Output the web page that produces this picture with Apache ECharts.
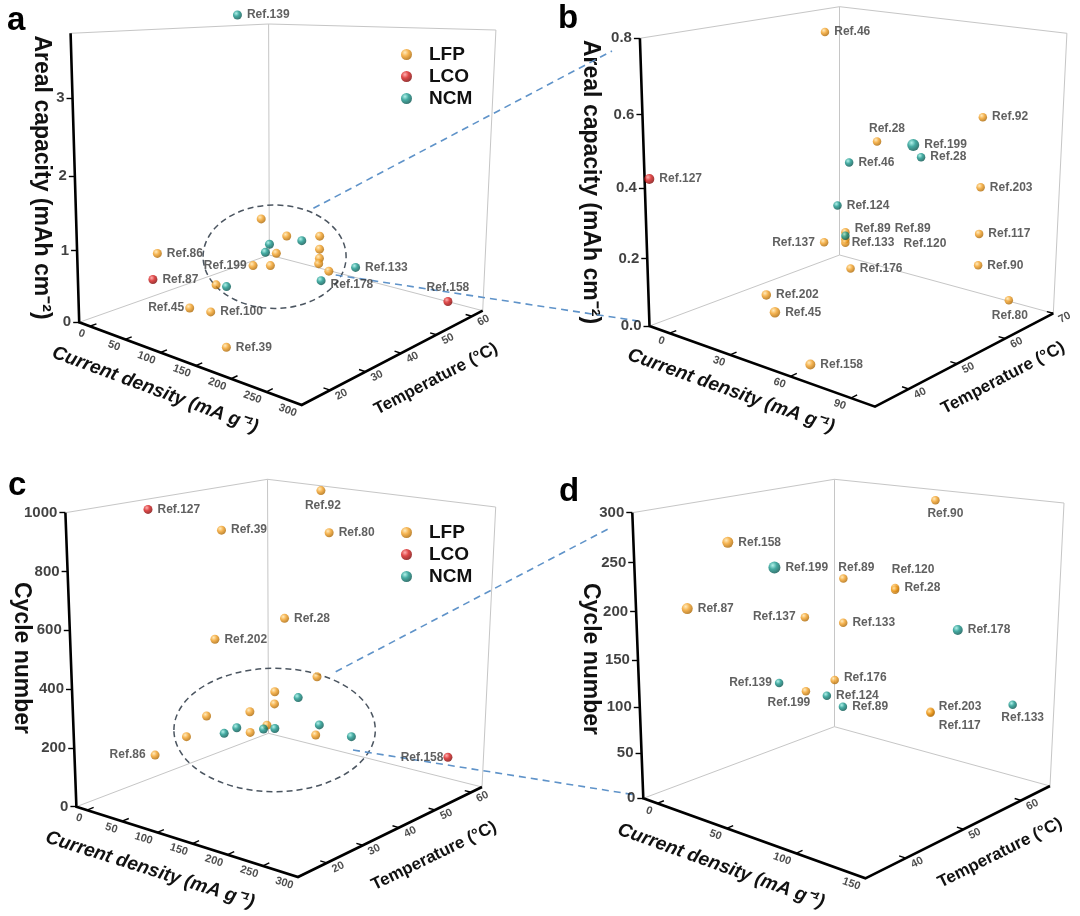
<!DOCTYPE html>
<html><head><meta charset="utf-8">
<script src="https://cdn.jsdelivr.net/npm/echarts@6/dist/echarts.min.js"></script>
<style>html,body{margin:0;padding:0;background:#fff}#c{width:1080px;height:916px}</style>
</head><body><div id="c"></div>
<script>
// ---------------- DATA: [current density (mA/g), temperature (°C), value, reference] ----------------
// Panel a: areal capacity (mAh cm-2)
const aLFP = [
  [29,25,0.89,'Ref.86'],[74,25,0.26,'Ref.45'],[104,25,0.30,'Ref.100'],[178,15,0.26,'Ref.39'],
  [59,35,0.35,''],[59,45,0.44,'Ref.199'],[84,45,0.51,''],[17,55,0.87,''],[39,55,0.37,''],
  [54,55,0.69,''],[75,60,0.64,''],[75,60,0.43,''],[75,60,0.28,''],[74,60,0.19,''],[89,60,0.11,'']
];
const aLCO = [[22,25,0.50,'Ref.87'],[264,60,0.12,'Ref.158']];
const aNCM = [[142,25,4.04,'Ref.139'],[74,35,0.37,''],[29,55,0.49,''],[50,50,0.52,''],[49,60,0.50,''],
  [128,60,0.28,'Ref.133'],[131,50,0.31,'Ref.178']];
// Panel b: areal capacity (zoom)
const bLFP = [
  [22,55,0.79,'Ref.46'],[87,60,0.60,'Ref.92'],[35,60,0.48,'Ref.28'],[87,60,0.41,'Ref.203'],
  [45,50,0.28,'Ref.89'],[45,50,0.26,'Ref.133'],[45,50,0.25,'Ref.120'],[47,45,0.28,'Ref.137'],
  [87,60,0.28,'Ref.117'],[35,55,0.13,'Ref.176'],[87,60,0.19,'Ref.90'],[18,45,0.08,'Ref.202'],
  [35,40,0.09,'Ref.45'],[91,65,0.06,'Ref.80'],[65,35,0.03,'Ref.158']
];
const bLCO = [[0,30,0.45,'Ref.127']];
const bNCM = [[53,60,0.49,'Ref.199'],[57,60,0.46,'Ref.28'],[34,55,0.44,'Ref.46'],[41,50,0.35,'Ref.124'],[45,50,0.27,'Ref.89']];
// Panel c: cycle number
const cLFP = [
  [178,15,1000,'Ref.39'],[75,60,995,'Ref.92'],[87,60,840,'Ref.80'],[25,60,486,'Ref.28'],
  [8,45,460,'Ref.202'],[29,25,146,'Ref.86'],[72,60,288,''],[11,60,195,''],[38,55,190,''],
  [57,45,222,''],[22,40,209,''],[20,35,157,''],[30,50,104,''],[27,55,103,''],[98,55,111,'']
];
const cLCO = [[0,30,975,'Ref.127'],[264,60,103,'Ref.158']];
const cNCM = [[45,60,193,''],[38,45,152,''],[47,40,162,''],[22,55,85,''],[22,58,71,''],[76,60,108,''],[123,60,93,'']];
// Panel d: cycle number (zoom)
const dLFP = [
  [82,60,299,'Ref.90'],[46,35,282,'Ref.158'],[40,55,215,'Ref.89'],[55,60,200,'Ref.28'],
  [55,60,198,'Ref.120'],[17,35,209,'Ref.87'],[56,45,196,'Ref.137'],[40,55,167,'Ref.133'],
  [34,55,101,'Ref.176'],[35,50,100,'Ref.199'],[82,60,71,'Ref.203'],[82,60,70,'Ref.117']
];
const dLCO = [];
const dNCM = [[35,45,241,'Ref.199'],[100,60,167,'Ref.178'],[59,40,139,'Ref.139'],[50,50,101,'Ref.124'],
  [40,55,73,'Ref.89'],[141,60,100,'Ref.133']];

// tick labels
const aValTicks = [0,1,2,3],        aCurTicks = [0,50,100,150,200,250,300], aTemTicks = [20,30,40,50,60];
const bValTicks = [0,0.2,0.4,0.6,0.8], bCurTicks = [0,30,60,90],         bTemTicks = [40,50,60,70];
const cValTicks = [0,200,400,600,800,1000], cCurTicks = [0,50,100,150,200,250,300], cTemTicks = [20,30,40,50,60];
const dValTicks = [0,50,100,150,200,250,300], dCurTicks = [0,50,100,150], dTemTicks = [40,50,60];

const valTitle = {a:'Areal capacity (mAh cm\u207B\u00B2)', b:'Areal capacity (mAh cm\u207B\u00B2)', c:'Cycle number', d:'Cycle number'};
const curTitle = 'Current density (mA g\u207B\u00B9)';
const temTitle = 'Temperature (\u00B0C)';
const materials = ['LFP','LCO','NCM'];

// ---------------- LAYOUT (projected box corners, axis ranges) ----------------
const FONT = '"Liberation Sans", Arial, Helvetica, sans-serif';
const P = {
  a:{L0:[79.2,322.3],dL:[-8.6,-289],B0:[269.3,255],dB:[-0.7,-231],R0:[482.7,310.7],dR:[13.2,-280.7],F0:[301.7,405],dF:[4.5,-360],
     cur:[-15,300],tem:[12,63],val:[0,3.8],warp:0.92,size:9,dec:0,
     data:{LFP:aLFP,LCO:aLCO,NCM:aNCM},ticks:[aValTicks,aCurTicks,aTemTicks],
     letter:[7,20.5],vt:[41,177.5],ct:[155,390],tt:[436,379]},
  b:{L0:[649.5,326],dL:[-9.6,-287.7],B0:[839.6,255],dB:[0,-248.3],R0:[1053.3,313.3],dR:[13.6,-280],F0:[875,406.7],dF:[4.1,-332.5],
     cur:[-10,102],tem:[33,70],val:[0,0.8],warp:0.92,size:8.5,dec:1,
     data:{LFP:bLFP,LCO:bLCO,NCM:bNCM},ticks:[bValTicks,bCurTicks,bTemTicks],
     letter:[558,18.5],vt:[590.5,182],ct:[731,391],tt:[1003,378]},
  c:{L0:[76.4,806.7],dL:[-11,-294],B0:[268.5,733.3],dB:[-1,-254],R0:[482,787],dR:[13.7,-280],F0:[298,877],dF:[3.2,-332.3],
     cur:[-15,300],tem:[12,63],val:[0,1000],warp:1,size:9,dec:0,
     data:{LFP:cLFP,LCO:cLCO,NCM:cNCM},ticks:[cValTicks,cCurTicks,cTemTicks],
     letter:[8,485.5],vt:[21,658],ct:[150,870],tt:[434,856]},
  d:{L0:[643.3,798.3],dL:[-11,-285.6],B0:[834.4,726.7],dB:[0,-247.4],R0:[1050,786],dR:[14,-283],F0:[865.4,878.3],dF:[3.1,-328.3],
     cur:[-10,150],tem:[33,65],val:[0,300],warp:0.94,size:8.5,dec:0,
     data:{LFP:dLFP,LCO:dLCO,NCM:dNCM},ticks:[dValTicks,dCurTicks,dTemTicks],
     letter:[559,492],vt:[590,659],ct:[721,866],tt:[1000,853]}
};
const LETTER = {a:'a',b:'b',c:'c',d:'d'};
// label placement [position, dx, dy] and special sizes
const LBL = {
  'a|LFP|Ref.199':['left',3,0],'a|LFP|Ref.45':['left',4,0],'a|LCO|Ref.158':['top',0,2],'a|NCM|Ref.178':['right',0,4],
  'b|LFP|Ref.28':['top',10,3],'b|LFP|Ref.80':['bottom',1,0],'b|LFP|Ref.137':['left',0,0],'b|LFP|Ref.89':['right',0,-3],
  'b|NCM|Ref.89':['right',40,-7],'b|LFP|Ref.133':['right',-3,3],'b|LFP|Ref.120':['right',49,1],
  'c|LFP|Ref.92':['bottom',2,0],'c|LCO|Ref.158':['left',5,0],'c|LFP|Ref.86':['left',0,0],
  'd|LFP|Ref.90':['bottom',10,-2],'d|LFP|Ref.89':['top',13,4],'d|LFP|Ref.120':['top',18,-5],'d|LFP|Ref.137':['left',0,0],
  'd|NCM|Ref.139':['left',2,0],'d|LFP|Ref.199':['bottom',-17,-4],'d|LFP|Ref.203':['right',-1,-5],'d|LFP|Ref.117':['right',-1,13],
  'd|NCM|Ref.133':['bottom',10,-2],'d|LFP|Ref.176':['right',0,-2]
};
const SIZE = {'b|NCM|Ref.199':12,'b|LFP|Ref.45':10.5,'b|LFP|Ref.202':9.5,'b|LFP|Ref.158':10,'b|LCO|Ref.127':10,
  'd|NCM|Ref.199':12,'d|LFP|Ref.158':11,'d|LFP|Ref.87':11,'d|NCM|Ref.178':10};

function sphere(c0,c1,c2){
  return new echarts.graphic.RadialGradient(0.36,0.32,0.72,[{offset:0,color:c0},{offset:0.45,color:c1},{offset:1,color:c2}]);
}
const COLORS = {LFP:sphere('#ffe6ad','#f3a126','#a86300'), LCO:sphere('#ff9d9d','#d61b1b','#780404'), NCM:sphere('#9eeee4','#17968b','#05504a')};

// ---------------- projection ----------------
function lerp(p,q,s){return [p[0]+(q[0]-p[0])*s, p[1]+(q[1]-p[1])*s];}
function project(G,c,T,v){
  const u=(c-G.cur[0])/(G.cur[1]-G.cur[0]);
  const t=(T-G.tem[0])/(G.tem[1]-G.tem[0]);
  const w=(v-G.val[0])/(G.val[1]-G.val[0]);
  const f=w*(G.warp+(1-G.warp)*w);
  const A=lerp(G.L0,G.B0,t), C=lerp(G.F0,G.R0,t);
  const hA=lerp(G.dL,G.dB,t), hC=lerp(G.dF,G.dR,t);
  const fl=lerp(A,C,u), h=lerp(hA,hC,u);
  return [fl[0]+f*h[0], fl[1]+f*h[1]];
}
function unit(p,q){const dx=q[0]-p[0],dy=q[1]-p[1],l=Math.hypot(dx,dy);return [dx/l,dy/l];}

const series=[], graphic=[];
Object.keys(P).forEach(k=>{
  const G=P[k], [c0,c1]=G.cur, [t0,t1]=G.tem, [v0,v1]=G.val;
  const pr=(c,T,v)=>project(G,c,T,v);
  // box edges
  const thin=[[[c0,t0,v1],[c0,t1,v1]],[[c0,t1,v1],[c1,t1,v1]],[[c0,t1,v0],[c0,t1,v1]],[[c1,t1,v0],[c1,t1,v1]],
              [[c0,t0,v0],[c0,t1,v0]],[[c0,t1,v0],[c1,t1,v0]]];
  series.push({type:'lines',coordinateSystem:'cartesian2d',silent:true,z:1,
    lineStyle:{color:'#c6c6c6',width:1,opacity:1,curveness:0},
    data:thin.map(e=>({coords:[pr(...e[0]),pr(...e[1])]}))});
  series.push({type:'lines',coordinateSystem:'cartesian2d',polyline:true,silent:true,z:3,
    lineStyle:{color:'#000',width:2.6,opacity:1,join:'miter'},
    data:[{coords:[pr(c0,t0,v1),pr(c0,t0,v0),pr(c1,t0,v0),pr(c1,t1,v0)]}]});
  // ticks
  const [vt,ct,tt]=G.ticks, tickSeg=[];
  vt.forEach(v=>{const p=pr(c0,t0,v);tickSeg.push({coords:[p,[p[0]-6,p[1]]]});});
  ct.forEach(c=>{tickSeg.push({coords:[pr(c,t0,v0),pr(c,t0+0.035*(t1-t0),v0)]});});
  tt.forEach(T=>{tickSeg.push({coords:[pr(c1,T,v0),pr(c1-0.03*(c1-c0),T,v0)]});});
  series.push({type:'lines',coordinateSystem:'cartesian2d',silent:true,z:3,lineStyle:{color:'#000',width:1.4,opacity:1},data:tickSeg});
  // tick labels
  const dC=unit(pr(c0,t0,v0),pr(c1,t0,v0)), nC=[-dC[1],dC[0]];
  const dT=unit(pr(c1,t0,v0),pr(c1,t1,v0)), nT=[-dT[1],dT[0]];
  const rotC=-Math.atan2(dC[1],dC[0])*180/Math.PI, rotT=-Math.atan2(dT[1],dT[0])*180/Math.PI;
  const tl=[];
  vt.forEach(v=>{const p=pr(c0,t0,v);tl.push({name:v.toFixed(G.dec),value:[p[0]-8,p[1]],
    label:{align:'right',verticalAlign:'middle',fontSize:15,color:'#111'}});});
  ct.forEach(c=>{const p=pr(c,t0,v0);tl.push({name:String(c),value:[p[0]+nC[0]*10-dC[0]*2,p[1]+nC[1]*10-dC[1]*2],
    label:{align:'right',verticalAlign:'middle',rotate:rotC,fontSize:11,color:'#222'}});});
  tt.forEach(T=>{const p=pr(c1,T,v0);tl.push({name:String(T),value:[p[0]+nT[0]*9+dT[0]*2,p[1]+nT[1]*9+dT[1]*2],
    label:{align:'left',verticalAlign:'middle',rotate:rotT,fontSize:11,color:'#222'}});});
  series.push({type:'scatter',silent:true,z:4,symbolSize:1,itemStyle:{color:'rgba(0,0,0,0)'},
    label:{show:true,position:'inside',formatter:'{b}',fontFamily:FONT,fontWeight:'bold'},data:tl});
  // data points
  materials.forEach(m=>{
    const rows=G.data[m]; if(!rows||!rows.length) return;
    series.push({type:'scatter',name:m,z:6,itemStyle:{color:COLORS[m]},emphasis:{disabled:true},
      label:{show:true,formatter:'{b}',fontFamily:FONT,fontWeight:'bold',fontSize:12,color:'#383838',distance:5},
      data:rows.map(r=>{const key=k+'|'+m+'|'+r[3];const lp=LBL[key]||['right',0,0];
        return {name:r[3],value:pr(r[0],r[1],r[2]),symbolSize:SIZE[key]||G.size,
          label:{show:!!r[3],position:lp[0],offset:[lp[1],lp[2]]}};})});
  });
  // titles
  graphic.push({type:'text',x:G.letter[0],y:G.letter[1],silent:true,
    style:{text:LETTER[k],font:'bold 33px '+FONT,fill:'#000',align:'left',verticalAlign:'middle',textAlign:'left',textVerticalAlign:'middle'}});
  graphic.push({type:'text',x:G.vt[0],y:G.vt[1],rotation:-Math.PI/2,silent:true,
    style:{text:valTitle[k],font:'bold 23px '+FONT,fill:'#111',align:'center',verticalAlign:'middle',textAlign:'center',textVerticalAlign:'middle'}});
  graphic.push({type:'text',x:G.ct[0],y:G.ct[1],rotation:rotC*Math.PI/180,silent:true,
    style:{text:curTitle,font:'italic bold 19px '+FONT,fill:'#111',align:'center',verticalAlign:'middle',textAlign:'center',textVerticalAlign:'middle'}});
  graphic.push({type:'text',x:G.tt[0],y:G.tt[1],rotation:rotT*Math.PI/180,silent:true,
    style:{text:temTitle,font:'bold 17px '+FONT,fill:'#111',align:'center',verticalAlign:'middle',textAlign:'center',textVerticalAlign:'middle'}});
});
// annotation: dashed ellipses and connector lines
[[274.6,256.7,71.5,51.7],[274.6,730,100.7,61.7]].forEach(e=>graphic.push({type:'ellipse',silent:true,z:2,
  shape:{cx:e[0],cy:e[1],rx:e[2],ry:e[3]},style:{fill:'none',stroke:'#4b5560',lineWidth:1.5,lineDash:[6,4]}}));
[[313.4,208.3,612,51],[335.7,275,638,321],[335.7,671.7,608,529],[353,750,636,795]].forEach(l=>graphic.push({type:'line',silent:true,z:2,
  shape:{x1:l[0],y1:l[1],x2:l[2],y2:l[3]},style:{stroke:'#5f93c9',lineWidth:1.6,lineDash:[7,5]}}));

const legendBase={data:materials,orient:'vertical',left:396,itemWidth:11,itemHeight:11,itemGap:3,icon:'circle',selectedMode:false,
  textStyle:{fontSize:19,fontWeight:'bold',color:'#111',fontFamily:FONT,padding:[0,0,0,12]}};
const chart=echarts.init(document.getElementById('c'),null,{renderer:'canvas'});
chart.setOption({
  animation:false,backgroundColor:'#fff',
  grid:{left:0,top:0,width:1080,height:916,containLabel:false},
  xAxis:{type:'value',min:0,max:1080,show:false},
  yAxis:{type:'value',min:0,max:916,inverse:true,show:false},
  legend:[Object.assign({top:40},legendBase),Object.assign({top:518},legendBase)],
  graphic:graphic,
  series:series
});
</script></body></html>
